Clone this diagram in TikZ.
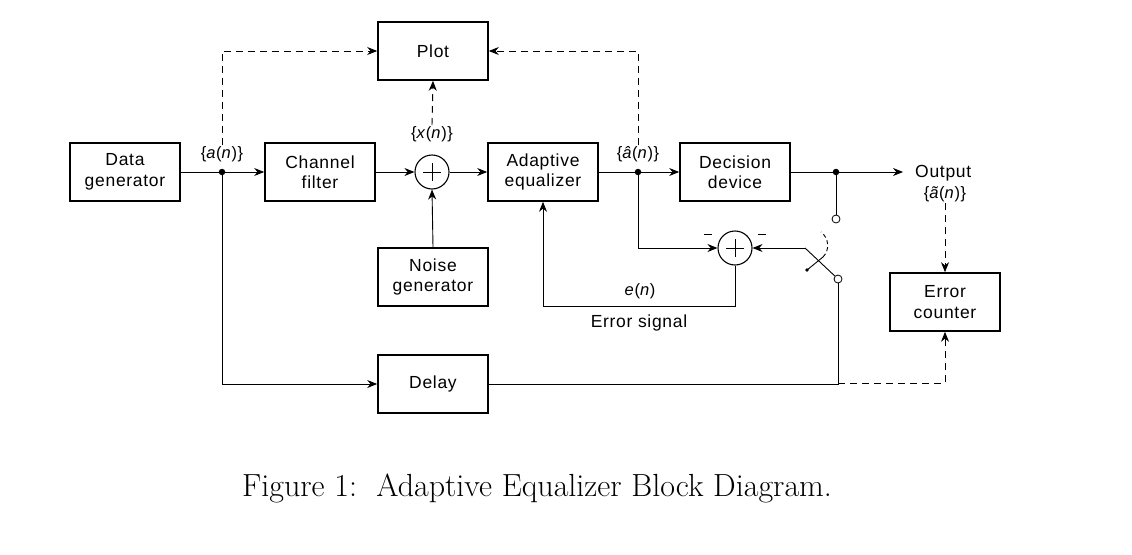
\documentclass[tikz,border=0pt]{standalone}
\usepackage{fontspec}
\setmainfont{Liberation Sans}[LetterSpace=4]
\newfontfamily\capfont{Latin Modern Roman}
\usetikzlibrary{arrows.meta,calc}
\begin{document}
\begin{tikzpicture}[x=1pt,y=-1pt,
  box/.style={draw,line width=1.6pt,minimum width=110pt,minimum height=58pt,align=center,inner sep=0pt,font=\fontsize{17.5}{20.5}\selectfont},
  sumnode/.style={draw,circle,line width=1.1pt,minimum size=34pt,inner sep=0pt},
  conn/.style={line width=0.9pt},
  arr/.style={conn,-{Stealth[length=10pt,width=8pt]}},
  darr/.style={conn,dash pattern=on 7pt off 5pt,-{Stealth[length=10pt,width=8pt]}},
  lbl/.style={font=\fontsize{16.5}{18}\selectfont,inner sep=1pt},
  dot/.style={circle,fill,inner sep=0pt,minimum size=6.5pt},
  ocirc/.style={circle,draw,line width=0.8pt,inner sep=0pt,minimum size=8pt,fill=white}]
\useasboundingbox (0,0) rectangle (1132,554);
\fill[white] (0,0) rectangle (1132,554);
% blocks
\node[box] (dg) at (125,172) {Data\\generator};
\node[box] (cf) at (320,172) {Channel\\filter};
\node[box] (pl) at (433,51) {Plot};
\node[sumnode] (s1) at (432,172) {};
\node[box] (ae) at (543,172) {Adaptive\\equalizer};
\node[box] (dd) at (735,172) {Decision\\device};
\node[box] (ng) at (433,277) {Noise\\generator};
\node[box] (dl) at (433,384) {Delay};
\node[box] (ec) at (945,302) {Error\\counter};
\node[sumnode] (s2) at (735,248) {};
% plus signs
\foreach \s in {s1,s2}{
  \draw[line width=0.8pt] ($(\s)+(-9,0)$) -- ($(\s)+(9,0)$);
  \draw[line width=0.8pt] ($(\s)+(0,-9)$) -- ($(\s)+(0,9)$);
}
% minus signs at s2
\draw[line width=0.8pt] (704,234) -- (712,234);
\draw[line width=0.8pt] (758,234) -- (766,234);
% junctions
\node[dot] (j1) at (222,172) {};
\node[dot] (j2) at (638,172) {};
\node[dot] (j3) at (836,172) {};
\coordinate (out) at (903,172);
\node[ocirc] (c1) at (836,219) {};
\node[ocirc] (c2) at (838,279) {};
\coordinate (sw) at (805,248);
\coordinate (pv) at (807,270);
\coordinate (bl) at (823,257);
% labels
\node[lbl] (la) at (222,154) {\{\textit{a}(\textit{n})\}};
\node[lbl] (lx) at (432,134) {\{\textit{x}(\textit{n})\}};
\node[lbl] (lh) at (638,154) {\{\textit{â}(\textit{n})\}};
\node[font=\fontsize{17.5}{20}\selectfont,anchor=west,inner sep=0pt] (lo) at (915,173) {Output};
\node[lbl] (lt) at (945,194) {\{\textit{ã}(\textit{n})\}};
\node[lbl] (le) at (640,291) {\textit{e}(\textit{n})};
\node[font=\fontsize{17.5}{20}\selectfont,inner sep=1pt] (les) at (639,323) {Error signal};
% main signal path
\draw[arr] (dg.east) -- (cf.west);
\draw[arr] (cf.east) -- (s1.west);
\draw[arr] (s1.east) -- (ae.west);
\draw[arr] (ae.east) -- (dd.west);
\draw[arr] (dd.east) -- (out);
\draw[arr] (ng.north) -- (s1.south);
% plot feeds
\draw[darr] (lx.north) -- (pl.south);
\draw[darr] (la.north) |- (pl.west);
\draw[darr] (lh.north) |- (pl.east);
% error loop
\draw[arr] (j2) |- (s2.west);
\draw[arr] (s2.south) |- (543,306) -- (ae.south);
\draw[arr] (sw) -- (s2.east);
% switch
\draw[conn] (sw) -- (c2);
\draw[conn] (j3) -- (c1.north);
\draw[conn] (pv) -- (bl);
\fill (pv) circle (1.8pt);
\draw[conn,dash pattern=on 4pt off 3pt] (bl) .. controls (830,250) and (829,238) .. (821,232);
% delay path
\draw[arr] (j1) |- (dl.west);
\draw[conn] (c2.south) |- (dl.east);
\draw[darr] (838,383) -| (ec.south);
\draw[darr] (lt.south) -- (ec.north);
% caption
\node[font=\capfont\fontsize{32}{37}\selectfont,inner sep=0pt] (cap) at (537,488) {Figure 1:\ \ Adaptive Equalizer Block Diagram.};
\end{tikzpicture}
\end{document}
